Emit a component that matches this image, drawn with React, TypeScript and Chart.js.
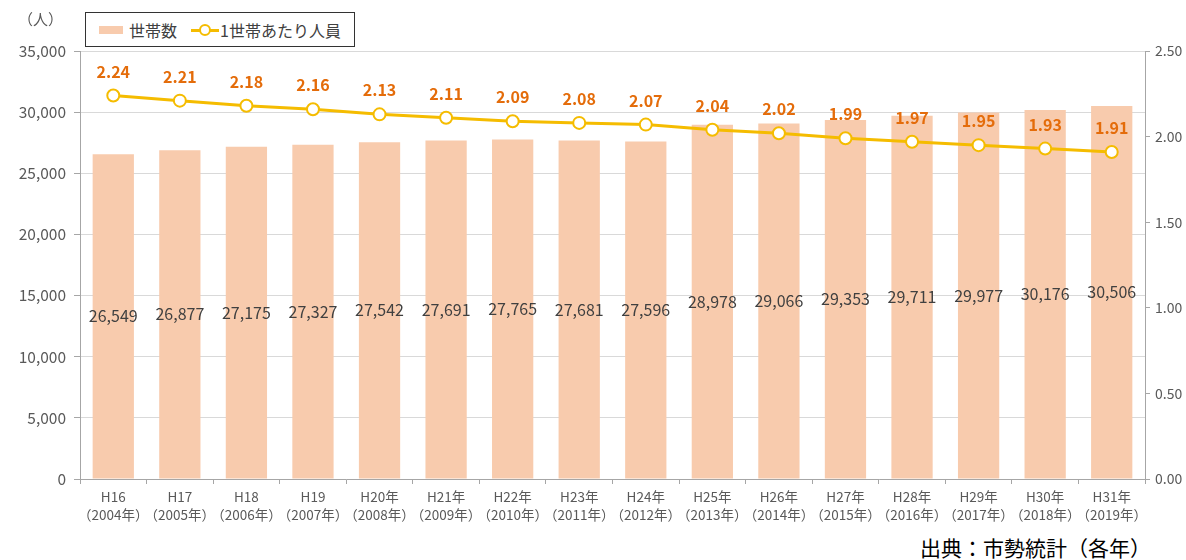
import React, { useEffect, useRef } from "react";
import { Chart, registerables } from "chart.js";

Chart.register(...registerables);

const categories: string[][] = [
  ["H16", "（2004年）"],
  ["H17", "（2005年）"],
  ["H18", "（2006年）"],
  ["H19", "（2007年）"],
  ["H20年", "（2008年）"],
  ["H21年", "（2009年）"],
  ["H22年", "（2010年）"],
  ["H23年", "（2011年）"],
  ["H24年", "（2012年）"],
  ["H25年", "（2013年）"],
  ["H26年", "（2014年）"],
  ["H27年", "（2015年）"],
  ["H28年", "（2016年）"],
  ["H29年", "（2017年）"],
  ["H30年", "（2018年）"],
  ["H31年", "（2019年）"],
];

const households: number[] = [
  26549, 26877, 27175, 27327, 27542, 27691, 27765, 27681, 27596, 28978, 29066,
  29353, 29711, 29977, 30176, 30506,
];

const perHousehold: number[] = [
  2.24, 2.21, 2.18, 2.16, 2.13, 2.11, 2.09, 2.08, 2.07, 2.04, 2.02, 1.99, 1.97,
  1.95, 1.93, 1.91,
];

const seriesNames = ["世帯数", "1世帯あたり人員"];
const unitLabel = "（人）";
const sourceNote = "出典：市勢統計（各年）";

const FONT = "'Noto Sans CJK JP', 'Noto Sans', sans-serif";
const BAR_COLOR = "#F8CBAD";
const LINE_COLOR = "#F5BC00";
const LABEL_ORANGE = "#E46C0A";
const TICK_COLOR = "#595959";
const AXIS_COLOR = "#A6A6A6";
const GRID_COLOR = "#D9D9D9";

const labelPlugin = {
  id: "valueLabels",
  afterDatasetsDraw(chart: any) {
    const ctx = chart.ctx;
    ctx.save();
    const barMeta = chart.getDatasetMeta(0);
    ctx.font = `16px ${FONT}`;
    ctx.fillStyle = "#404040";
    ctx.textAlign = "center";
    ctx.textBaseline = "middle";
    barMeta.data.forEach((el: any, i: number) => {
      const y = (el.y + el.base) / 2;
      ctx.fillText(households[i].toLocaleString("en-US"), el.x, y);
    });
    const lineMeta = chart.getDatasetMeta(1);
    ctx.font = `bold 16px ${FONT}`;
    ctx.fillStyle = LABEL_ORANGE;
    lineMeta.data.forEach((el: any, i: number) => {
      ctx.fillText(perHousehold[i].toFixed(2), el.x, el.y - 24);
    });
    ctx.restore();
  },
};

export default function App() {
  const canvasRef = useRef<HTMLCanvasElement | null>(null);

  useEffect(() => {
    document.body.style.margin = "0";
    const canvas = canvasRef.current;
    if (!canvas) return;
    const chart = new Chart(canvas, {
      type: "bar",
      data: {
        labels: categories,
        datasets: [
          {
            type: "bar",
            label: seriesNames[0],
            data: households,
            backgroundColor: BAR_COLOR,
            borderWidth: 0,
            yAxisID: "y",
            order: 2,
            barPercentage: 0.62,
            categoryPercentage: 1,
          },
          {
            type: "line",
            label: seriesNames[1],
            data: perHousehold,
            borderColor: LINE_COLOR,
            borderWidth: 3,
            pointRadius: 6,
            pointBorderWidth: 2,
            pointBackgroundColor: "#FFFFFF",
            pointBorderColor: LINE_COLOR,
            yAxisID: "y1",
            order: 1,
            tension: 0,
          } as any,
        ],
      },
      options: {
        responsive: false,
        animation: false,
        maintainAspectRatio: false,
        layout: { padding: { top: 51, left: 0, right: 0, bottom: 0 } },
        plugins: {
          legend: { display: false },
          tooltip: { enabled: false },
        },
        scales: {
          x: {
            grid: {
              offset: true,
              drawOnChartArea: false,
              tickLength: 5,
              color: AXIS_COLOR,
            },
            border: { color: AXIS_COLOR },
            ticks: {
              color: TICK_COLOR,
              font: { family: FONT, size: 13.5, lineHeight: 1.35 },
              maxRotation: 0,
              autoSkip: false,
              padding: 4,
            },
            afterFit: (s: any) => {
              s.height = 51;
            },
          },
          y: {
            position: "left",
            min: 0,
            max: 35000,
            ticks: {
              stepSize: 5000,
              color: TICK_COLOR,
              font: { family: FONT, size: 15.5 },
              padding: 8,
              callback: (v: any) => Number(v).toLocaleString("en-US"),
            },
            grid: { color: GRID_COLOR, tickColor: AXIS_COLOR, tickLength: 6 },
            border: { color: AXIS_COLOR },
            afterFit: (s: any) => {
              s.width = 80;
            },
          },
          y1: {
            position: "right",
            min: 0,
            max: 2.5,
            ticks: {
              stepSize: 0.5,
              color: TICK_COLOR,
              font: { family: FONT, size: 14 },
              padding: 5,
              callback: (v: any) => Number(v).toFixed(2),
            },
            grid: { drawOnChartArea: false, color: AXIS_COLOR, tickLength: 5 },
            border: { color: AXIS_COLOR },
            afterFit: (s: any) => {
              s.width = 41;
            },
          },
        },
      },
      plugins: [labelPlugin],
    } as any);
    return () => chart.destroy();
  }, []);

  return (
    <div style={{ position: "relative", width: 1186, height: 560, background: "#fff", fontFamily: FONT }}>
      <canvas ref={canvasRef} width={1186} height={530} style={{ position: "absolute", left: 0, top: 0, width: 1186, height: 530 }} />
      <div style={{ position: "absolute", left: 18, top: 8, fontSize: 15, color: TICK_COLOR }}>{unitLabel}</div>
      <div
        style={{
          position: "absolute",
          left: 85,
          top: 12,
          width: 270,
          height: 35,
          border: "1px solid #333",
          background: "#fff",
          display: "flex",
          alignItems: "center",
          fontSize: 16,
          color: "#404040",
          boxSizing: "border-box",
        }}
      >
        <span style={{ display: "inline-block", marginLeft: 13, width: 24, height: 8, background: BAR_COLOR }} />
        <span style={{ marginLeft: 6 }}>{seriesNames[0]}</span>
        <span style={{ position: "relative", display: "inline-block", marginLeft: 14, width: 28, height: 12 }}>
          <span style={{ position: "absolute", left: 0, top: 5, width: 28, height: 3, background: LINE_COLOR }} />
          <span
            style={{
              position: "absolute",
              left: 8,
              top: 0,
              width: 8,
              height: 8,
              borderRadius: "50%",
              border: `2px solid ${LINE_COLOR}`,
              background: "#fff",
            }}
          />
        </span>
        <span style={{ marginLeft: 1 }}>{seriesNames[1]}</span>
      </div>
      <div style={{ position: "absolute", left: 920, top: 532, fontSize: 21, color: "#000", whiteSpace: "nowrap" }}>{sourceNote}</div>
    </div>
  );
}
